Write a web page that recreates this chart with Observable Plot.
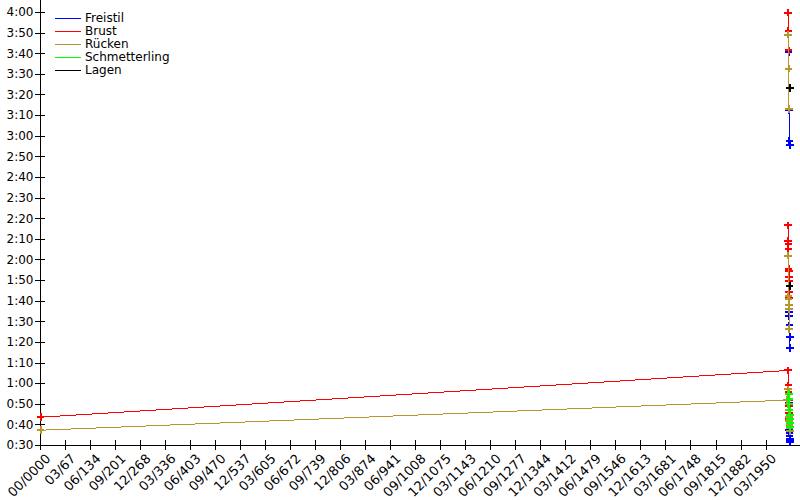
<!DOCTYPE html>
<html>
<head>
<meta charset="utf-8">
<script src="https://cdn.jsdelivr.net/npm/d3@7"></script>
<script src="https://cdn.jsdelivr.net/npm/@observablehq/plot@0.6"></script>
<style>
  html, body { margin: 0; padding: 0; background: #fff; }
  #wrap { position: relative; width: 800px; height: 500px; font-family: "DejaVu Sans", sans-serif; }
  #legend { position: absolute; left: 55px; top: 12px; font-size: 12px; color: #000; }
  #legend .row { height: 13.1px; line-height: 13.1px; display: flex; align-items: center; white-space: nowrap; }
  #legend .sw { width: 26px; height: 1px; margin-right: 4px; }
</style>
</head>
<body>
<div id="wrap"><div id="legend"></div></div>
<script>
// ---- data ----
const seriesNames = ["Freistil", "Brust", "Rücken", "Schmetterling", "Lagen"];
const seriesColors = ["#0000ff", "#ff0000", "#b8962e", "#00ff00", "#000000"];

// [date in years, time in seconds, distance group]
const freistil = [
  [2011.0, 221.0, "a"], [2012.0, 192.5, "a"], [2013.0, 177.9, "a"], [2014.0, 175.5, "a"],
  [2011.5, 94.6, "b"], [2012.2, 92.6, "b"], [2013.0, 88.2, "b"], [2013.8, 82.5, "b"], [2014.6, 77.4, "b"],
  [2011.2, 55.0, "c"], [2011.8, 50.5, "c"], [2012.4, 37.5, "c"], [2013.0, 36.0, "c"],
  [2013.6, 34.5, "c"], [2014.2, 33.0, "c"], [2014.8, 32.0, "c"], [2015.2, 31.5, "c"]
];
const brust = [
  [2009.5, 240.0, "a"], [2010.3, 231.0, "a"], [2011.0, 221.6, "a"],
  [2009.5, 136.7, "b"], [2009.9, 129.1, "b"], [2010.2, 127.8, "b"], [2010.5, 125.4, "b"],
  [2010.8, 115.7, "b"], [2011.1, 114.4, "b"], [2011.4, 111.6, "b"], [2011.7, 110.0, "b"],
  [2012.0, 104.3, "b"], [2012.3, 101.4, "b"],
  [0, 43.7, "c"], [2009.8, 66.4, "c"], [2010.3, 59.1, "c"], [2010.8, 56.0, "c"],
  [2011.3, 52.0, "c"], [2011.8, 49.0, "c"], [2012.3, 46.0, "c"], [2012.8, 43.0, "c"], [2013.3, 41.0, "c"]
];
const ruecken = [
  [2009.8, 229.3, "a"], [2010.8, 212.8, "a"], [2011.8, 193.3, "a"],
  [2009.8, 122.1, "b"], [2010.4, 102.7, "b"], [2011.0, 101.1, "b"], [2011.6, 98.2, "b"],
  [2012.2, 96.0, "b"], [2012.8, 86.6, "b"],
  [0, 37.4, "c"], [2006.0, 52.0, "c"], [2009.5, 57.2, "c"], [2010.2, 50.0, "c"],
  [2010.9, 47.0, "c"], [2011.6, 44.0, "c"], [2012.3, 42.0, "c"], [2013.0, 40.0, "c"],
  [2013.7, 38.5, "c"], [2014.4, 37.0, "c"]
];
const schmetterling = [
  [2012.5, 55.1, "c"], [2012.9, 52.5, "c"], [2013.3, 50.0, "c"], [2013.7, 47.0, "c"],
  [2014.1, 45.0, "c"], [2014.5, 43.0, "c"], [2014.9, 41.0, "c"], [2015.2, 39.0, "c"]
];
const lagen = [
  [2014.0, 203.5, "a"], [2013.5, 107.3, "b"]
];

const xTickLabels = ["00/0000","03/67","06/134","09/201","12/268","03/336","06/403","09/470","12/537","03/605",
  "06/672","09/739","12/806","03/874","06/941","09/1008","12/1075","03/1143","06/1210","09/1277",
  "12/1344","03/1412","06/1479","09/1546","12/1613","03/1681","06/1748","09/1815","12/1882","03/1950"];
const yTickValues = d3.range(30, 241, 10);

// ---- build table ----
const all = [freistil, brust, ruecken, schmetterling, lagen];
const rows = [];
all.forEach((arr, si) => arr.forEach(([date, time, g]) => rows.push({stil: seriesNames[si], g, date, time})));
const xTickValues = xTickLabels.map(s => { const [m, y] = s.split("/").map(Number); return y + m / 12; });
const fmt = s => `${Math.floor(s / 60)}:${String(Math.round(s % 60)).padStart(2, "0")}`;

const marks = [];
seriesNames.forEach(name => {
  const sub = rows.filter(r => r.stil === name).sort((a, b) => a.date - b.date);
  marks.push(Plot.line(sub, {x: "date", y: "time", z: "g", stroke: "stil", strokeWidth: 1}));
  marks.push(Plot.dot(sub, {x: "date", y: "time", stroke: "stil", symbol: "plus", r: 2.6, strokeWidth: 2}));
});

const chart = Plot.plot({
  width: 800, height: 500,
  marginLeft: 40, marginRight: 10, marginTop: 12, marginBottom: 55,
  style: {fontFamily: "DejaVu Sans", fontSize: "12px", background: "#fff", color: "#000"},
  x: {type: "linear", domain: [0, 2016]},
  y: {domain: [30, 240]},
  color: {domain: seriesNames, range: seriesColors},
  marks: [
    Plot.axisY({ticks: yTickValues, tickFormat: fmt, tickSize: 5, tickPadding: 2, label: null, fontSize: 12}),
    Plot.axisY({ticks: yTickValues, tickFormat: () => "", tickSize: 5, dx: 5, label: null}),
    Plot.axisX({ticks: xTickValues, tickFormat: (d, i) => xTickLabels[i], tickRotate: -45, tickSize: 0, tickPadding: 8, dx: 8, dy: 3, label: null, fontSize: 13}),
    Plot.axisX({ticks: xTickValues, tickFormat: () => "", tickSize: 5, label: null}),
    Plot.axisX({ticks: xTickValues, tickFormat: () => "", tickSize: 5, dy: -5, label: null}),
    Plot.ruleY([30], {insetRight: -10}),
    Plot.ruleX([0], {insetTop: -12}),
    ...marks
  ]
});
chart.querySelectorAll("path").forEach(p => p.setAttribute("shape-rendering", "crispEdges"));
document.getElementById("wrap").prepend(chart);

const leg = document.getElementById("legend");
seriesNames.forEach((n, i) => {
  const r = document.createElement("div");
  r.className = "row";
  r.innerHTML = `<span class="sw" style="background:${seriesColors[i]}"></span><span>${n}</span>`;
  leg.appendChild(r);
});
</script>
</body>
</html>
